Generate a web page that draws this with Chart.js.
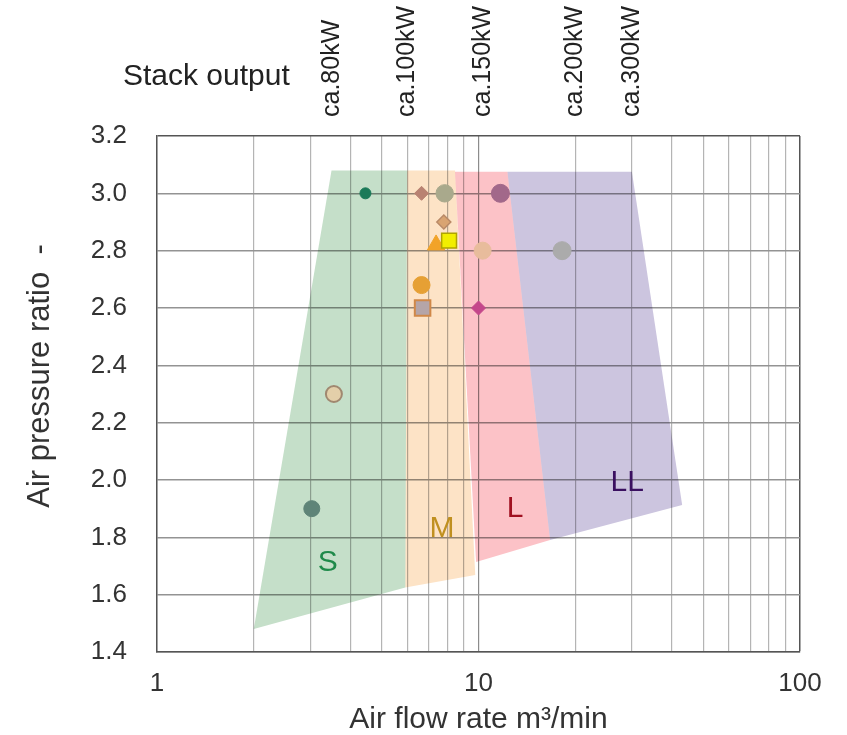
<!DOCTYPE html>
<html><head><meta charset="utf-8">
<script src="https://cdn.jsdelivr.net/npm/chart.js@4.4.1/dist/chart.umd.min.js"></script>
<style>html,body{margin:0;padding:0;background:#fff;}</style>
</head><body>
<canvas id="c" width="847" height="735"></canvas>
<script>
// ---- axis ticks ----
const xGridValues = [1,2,3,4,5,6,7,8,9,10,20,30,40,50,60,70,80,90,100];
const xTickLabels = ['1','10','100'];
const yTickValues = [1.4,1.6,1.8,2.0,2.2,2.4,2.6,2.8,3.0,3.2];
const yTitle = 'Air pressure ratio  -';
const xTitle = 'Air flow rate m³/min';

// ---- application regions (polygon corners) ----
const regionNames = ['S','M','L','LL'];
const regionS_x  = [3.49, 6.0, 5.92, 2.0];
const regionS_y  = [3.08, 3.08, 1.625, 1.48];
const regionM_x  = [6.0, 8.45, 9.77, 5.92];
const regionM_y  = [3.08, 3.08, 1.669, 1.625];
const regionL_x  = [8.45, 12.3, 16.7, 9.83];
const regionL_y  = [3.075, 3.075, 1.791, 1.714];
const regionLL_x = [12.3, 30.0, 43.0, 16.7];
const regionLL_y = [3.075, 3.075, 1.913, 1.791];
const regionLabelX = [3.4, 7.7, 13.0, 29.0];
const regionLabelY = [1.71, 1.83, 1.90, 1.99];

// ---- measured compressors ----
const pointX = [4.45, 6.65, 7.85, 11.7, 7.8, 7.38, 8.1, 10.3, 18.2, 6.65, 6.7, 10.0, 3.55, 3.03];
const pointY = [3.0, 3.0, 3.0, 3.0, 2.9, 2.82, 2.835, 2.8, 2.8, 2.68, 2.6, 2.6, 2.3, 1.9];

// ---- stack output annotations ----
const stackTitle = 'Stack output';
const stackLabels = ['ca.80kW','ca.100kW','ca.150kW','ca.200kW','ca.300kW'];
const stackX = [3.5, 6.0, 10.3, 20, 30];

// ---- styles ----
const polyColors = ['#c5dfc9','#fde3c6','#fcc2c7','#ccc5df'];
const regionTextColors = ['#1f8a4a','#c09020','#a01020','#3a1060'];
const pStyle  = ['circle','rectRot','circle','circle','rectRot','triangle','rect','circle','circle','circle','rect','rectRot','circle','circle'];
const pRadius = [5.5, 7, 8.7, 9, 7, 10, 10.5, 8.5, 9, 8.5, 11, 7, 8, 8];
const pFill   = ['#1a7a58','#b98272','#a9a98c','#a2688a','#d9a472','#f2a328','#f2ee00','#e8bc9c','#ababab','#e6a034','#b5a5a8','#c4478b','#e3cfa9','#5f8478'];
const pBorder = ['#1a7a58','#b98272','#a9a98c','#a2688a','#b98a68','#f2a328','#b0a400','#e8bc9c','#ababab','#e6a034','#d08848','#c4478b','#a08870','#5f8478'];
const pBorderW= [1,1,1,1,1.5,1,1.5,1,1,1,2,1,2,1];

function poly(xs, ys) {
  const d = xs.map((x, i) => ({x: x, y: ys[i]}));
  d.push({x: xs[0], y: ys[0]});
  return d;
}
const regionXs = [regionS_x, regionM_x, regionL_x, regionLL_x];
const regionYs = [regionS_y, regionM_y, regionL_y, regionLL_y];

const FONT = "'Liberation Sans', Arial, sans-serif";

const textPlugin = {
  id: 'texts',
  beforeDatasetsDraw(chart) {
    chart.ctx.save();
    chart.ctx.globalCompositeOperation = 'multiply';
  },
  beforeDatasetDraw(chart, args) {
    if (chart.data.datasets[args.index].type === 'scatter') {
      chart.ctx.globalCompositeOperation = 'source-over';
    }
  },
  afterDatasetsDraw(chart) {
    const ctx = chart.ctx;
    ctx.restore();
    const xs = chart.scales.x, ys = chart.scales.y;
    ctx.save();
    ctx.textBaseline = 'middle';
    ctx.textAlign = 'center';
    ctx.font = '30px ' + FONT;
    regionNames.forEach((n, i) => {
      ctx.fillStyle = regionTextColors[i];
      ctx.fillText(n, xs.getPixelForValue(regionLabelX[i]), ys.getPixelForValue(regionLabelY[i]));
    });
    ctx.restore();
  },
  afterDraw(chart) {
    const ctx = chart.ctx;
    const xs = chart.scales.x;
    ctx.save();
    ctx.fillStyle = '#222';
    ctx.font = '30px ' + FONT;
    ctx.textAlign = 'left';
    ctx.textBaseline = 'middle';
    ctx.fillText(stackTitle, 123, 77);
    ctx.font = '25px ' + FONT;
    stackLabels.forEach((t, i) => {
      const px = xs.getPixelForValue(stackX[i]);
      ctx.save();
      ctx.translate(px, 117);
      ctx.rotate(-Math.PI / 2);
      ctx.textAlign = 'left';
      ctx.textBaseline = 'middle';
      ctx.fillText(t, 0, 0);
      ctx.restore();
    });
    // y axis title
    ctx.fillStyle = '#333';
    ctx.font = '31px ' + FONT;
    ctx.save();
    ctx.translate(40, 376);
    ctx.rotate(-Math.PI / 2);
    ctx.textAlign = 'center';
    ctx.textBaseline = 'middle';
    ctx.fillText(yTitle, 0, 0);
    ctx.restore();
    ctx.restore();
  }
};

const datasets = regionNames.map((n, i) => ({
  type: 'line',
  label: n,
  data: poly(regionXs[i], regionYs[i]),
  fill: 'shape',
  backgroundColor: polyColors[i],
  borderColor: 'rgba(0,0,0,0)',
  borderWidth: 0,
  pointRadius: 0,
  tension: 0,
  order: 10
}));
datasets.push({
  type: 'scatter',
  label: 'compressors',
  data: pointX.map((x, i) => ({x: x, y: pointY[i]})),
  pointStyle: pStyle,
  pointRadius: pRadius,
  backgroundColor: pFill,
  borderColor: pBorder,
  borderWidth: pBorderW,
  order: 0
});

new Chart(document.getElementById('c'), {
  data: {datasets: datasets},
  options: {
    responsive: false,
    animation: false,
    devicePixelRatio: 1,
    layout: {padding: {top: 136, right: 47, left: 0, bottom: 0}},
    plugins: {legend: {display: false}, tooltip: {enabled: false}},
    scales: {
      x: {
        type: 'logarithmic',
        min: 1, max: 100,
        afterBuildTicks: s => { s.ticks = xGridValues.map(v => ({value: v})); },
        afterFit: s => { s.height = 83; },
        ticks: {
          autoSkip: false, maxRotation: 0, minRotation: 0,
          padding: 16,
          color: '#333',
          font: {size: 26, family: FONT},
          callback: v => xTickLabels.includes(String(v)) ? String(v) : ''
        },
        grid: {
          drawTicks: false,
          color: c => (c.tick && c.tick.value === 100) ? '#555' : (c.tick && c.tick.value === 10 ? '#8c8c8c' : '#b4b4b4'),
          lineWidth: c => (c.tick && c.tick.value === 100) ? 1.5 : 1.2
        },
        border: {display: true, color: '#555', width: 1.5},
        title: {display: true, text: xTitle, color: '#333', font: {size: 30, family: FONT, lineHeight: 1.0}, padding: {top: 0, bottom: 0}}
      },
      y: {
        type: 'linear',
        min: 1.4, max: 3.2,
        afterBuildTicks: s => { s.ticks = yTickValues.map(v => ({value: v})); },
        afterFit: s => { s.width = 157; },
        ticks: {
          padding: 30,
          color: '#333',
          font: {size: 26, family: FONT},
          callback: v => Number(v).toFixed(1)
        },
        grid: {
          drawTicks: false,
          color: c => (c.tick && Math.abs(c.tick.value - 3.2) < 1e-6) ? '#555' : '#939393',
          lineWidth: 1.5
        },
        border: {display: true, color: '#555', width: 1.5},
        title: {display: false}
      }
    }
  },
  plugins: [textPlugin]
});
</script>
</body></html>
